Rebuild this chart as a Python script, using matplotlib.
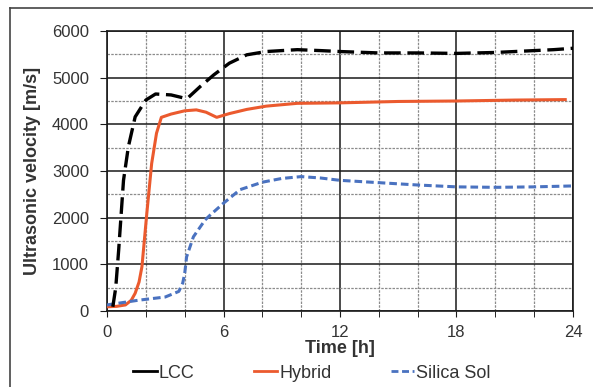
import numpy as np
import matplotlib.pyplot as plt
from matplotlib.lines import Line2D
from matplotlib.ticker import MultipleLocator

# values
lcc_t = [0.3, 0.45, 0.6, 0.85, 1.1, 1.45, 2.0, 2.5, 3.3, 4.0, 4.2, 4.8, 5.5, 6.3,
         7.2, 8.2, 9.8, 11, 12, 14, 16, 18, 20, 22, 23, 24]
lcc_v = [90, 500, 1300, 2800, 3520, 4160, 4520, 4650, 4630, 4560, 4580, 4810, 5060, 5310,
         5490, 5560, 5600, 5580, 5560, 5530, 5530, 5520, 5540, 5580, 5600, 5630]

hyb_t = [0, 0.5, 0.95, 1.25, 1.45, 1.65, 1.8, 2.05, 2.3, 2.55, 2.8, 3.3, 4.0, 4.6, 5.1, 5.65,
         6.3, 7.2, 8.2, 9.8, 12, 15, 18, 21, 23.6]
hyb_v = [90, 100, 130, 230, 380, 620, 950, 2090, 3160, 3810, 4150, 4220, 4290, 4310, 4260, 4150,
         4230, 4320, 4390, 4450, 4460, 4490, 4500, 4520, 4530]

sil_t = [0, 1.6, 3.0, 3.7, 3.9, 4.0, 4.1, 4.45, 5.05, 5.3, 6.0, 6.85, 8, 9, 10, 11,
         12, 14, 16, 18, 20, 22, 24]
sil_v = [130, 230, 300, 420, 600, 800, 1160, 1590, 1950, 2050, 2310, 2600, 2760, 2840,
         2880, 2850, 2800, 2750, 2700, 2660, 2650, 2660, 2680]

labels = ['LCC', 'Hybrid', 'Silica Sol']
c_lcc = 'black'
c_hyb = '#eb5a2e'
c_sil = '#4a72c0'
txt = '#333333'

plt.rcParams['font.family'] = ['Liberation Sans', 'DejaVu Sans']

fig = plt.figure(figsize=(5.93, 3.87), dpi=100)
ax = fig.add_axes([107 / 593, 1 - 311 / 387, 466 / 593, 280 / 387])

ax.plot(hyb_t, hyb_v, color=c_hyb, lw=2.2, zorder=4)
ax.plot(sil_t, sil_v, color=c_sil, lw=2.2, dashes=(2.5, 1.3), zorder=4)
ax.plot(lcc_t, lcc_v, color=c_lcc, lw=2.4, dashes=(5, 2), zorder=5)

ax.set_xlim(0, 24)
ax.set_ylim(0, 6000)
ax.xaxis.set_major_locator(MultipleLocator(6))
ax.xaxis.set_minor_locator(MultipleLocator(2))
ax.yaxis.set_major_locator(MultipleLocator(1000))
ax.yaxis.set_minor_locator(MultipleLocator(500))

ax.grid(which='major', color='#1a1a1a', lw=1.1)
ax.grid(which='minor', color='#8c8c8c', lw=0.9, linestyle=(0, (2, 1)))
ax.set_axisbelow(True)

for s in ax.spines.values():
    s.set_color('#1a1a1a')
    s.set_linewidth(1.2)

ax.tick_params(axis='both', which='major', labelsize=12, labelcolor=txt, color='#1a1a1a')
ax.tick_params(axis='x', which='both', length=4, pad=6)
ax.tick_params(axis='y', which='major', length=5, pad=8)
ax.tick_params(axis='y', which='minor', length=0)

ax.set_xlabel('Time [h]', fontsize=13, fontweight='bold', color=txt, labelpad=0)
fig.text(33 / 593, 1 - 171 / 387, 'Ultrasonic velocity [m/s]', rotation=90,
         fontsize=13, fontweight='bold', color=txt, ha='center', va='center')

handles = [Line2D([], [], color=c_lcc, lw=2.0),
           Line2D([], [], color=c_hyb, lw=2.0),
           Line2D([], [], color=c_sil, lw=2.0, dashes=(2.5, 1.3))]
fig.legend(handles, labels, loc='center', bbox_to_anchor=(312 / 593, 1 - 373 / 387),
           ncol=3, frameon=False, fontsize=13, handlelength=1.3, handletextpad=0.1,
           columnspacing=3.3, labelcolor=txt, borderpad=0)

# outer frame (cut off at right and bottom)
fig.add_artist(Line2D([10 / 593, 1], [1 - 8 / 387, 1 - 8 / 387], color='#444444', lw=1.2))
fig.add_artist(Line2D([10 / 593, 10 / 593], [0, 1 - 8 / 387], color='#444444', lw=1.2))

fig.savefig('out.png', dpi=100)
